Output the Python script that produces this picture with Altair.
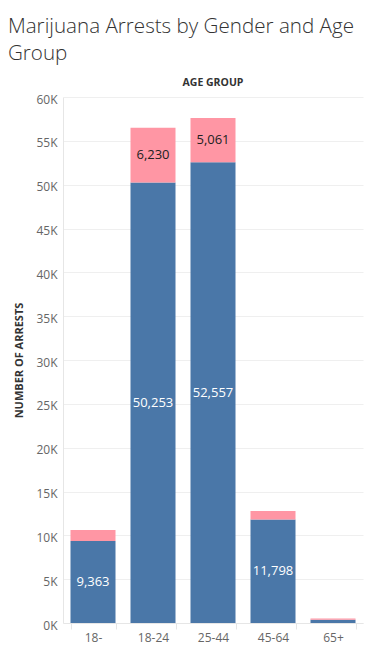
import altair as alt
import pandas as pd

ages = ["18-", "18-24", "25-44", "45-64", "65+"]
male = [9363, 50253, 52557, 11798, 380]
female = [1250, 6230, 5061, 990, 120]

rows = []
for a, m, f in zip(ages, male, female):
    rows.append({"age": a, "gender": "Male", "value": m, "ord": 0})
    rows.append({"age": a, "gender": "Female", "value": f, "ord": 1})
df = pd.DataFrame(rows)

FONT = "Open Sans"
W, H = 300, 526

base = alt.Chart(df).transform_stack(
    stack="value", groupby=["age"], as_=["y0", "y1"],
    sort=[alt.SortField("ord", order="ascending")]
)

x = alt.X("age:N", sort=ages, title=None,
          scale=alt.Scale(paddingInner=0.25, paddingOuter=0.125),
          axis=alt.Axis(labelAngle=0, labelFont=FONT, labelFontSize=12, labelColor="#666",
                        labelPadding=3, domainColor="#e6e6e6", ticks=True, tickBand="extent",
                        tickColor="#e6e6e6", tickSize=6, grid=False))

bars = base.mark_bar().encode(
    x=x,
    y=alt.Y("y0:Q", title="NUMBER OF ARRESTS",
            scale=alt.Scale(domain=[0, 60000], nice=False),
            axis=alt.Axis(values=list(range(0, 60001, 5000)), labelExpr="format(datum.value/1000, 'd') + 'K'",
                          labelFont=FONT, labelFontSize=12, labelColor="#666", labelPadding=6,
                          labelOffset=2,
                          ticks=False, domainColor="#e6e6e6", gridColor="#efefef",
                          titleFont=FONT, titleFontSize=11, titleFontWeight="bold",
                          titleColor="#333", titlePadding=11)),
    y2="y1:Q",
    color=alt.Color("gender:N", scale=alt.Scale(domain=["Male", "Female"], range=["#4a77a8", "#ff96a4"]),
                    legend=None),
)

labels = base.transform_calculate(mid="(datum.y0 + datum.y1) / 2").transform_filter(
    "datum.value > 3000"
).mark_text(font=FONT, fontSize=13).encode(
    x=alt.X("age:N", sort=ages),
    y=alt.Y("mid:Q"),
    text=alt.Text("value:Q", format=","),
    color=alt.condition("datum.gender == 'Male'", alt.value("white"), alt.value("#222")),
)

header = alt.Chart(pd.DataFrame({"t": ["AGE GROUP"]})).mark_text(
    font=FONT, fontSize=10.5, fontWeight="bold", color="#333"
).encode(x=alt.value(W / 2), y=alt.value(-14), text="t:N")

chart = alt.layer(bars, labels, header).properties(
    width=W, height=H,
    autosize=alt.AutoSizeParams(type="none"),
    padding={"left": 63, "top": 97, "right": 12, "bottom": 27},
    title=alt.TitleParams(["Marijuana Arrests by Gender and Age", "Group"], anchor="start",
                          font=FONT, fontSize=20.6, fontWeight=300, color="#333",
                          dx=-6, offset=13, lineHeight=27),
).configure_view(stroke=None)

chart.save("out.html", embed_options={"renderer": "svg", "actions": False})
